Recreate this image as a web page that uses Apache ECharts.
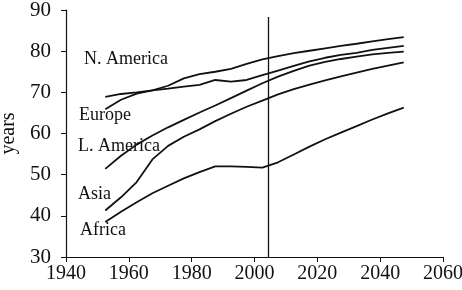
<!DOCTYPE html>
<html>
<head>
<meta charset="utf-8">
<style>
  html, body { margin: 0; padding: 0; background: #fff; }
  #chart { width: 462px; height: 290px; }
</style>
<script src="https://cdn.jsdelivr.net/npm/echarts@6/dist/echarts.min.js"></script>
</head>
<body>
<div id="chart"></div>
<script>
// mid-points of the five-year periods
const years = [1952.5, 1957.5, 1962.5, 1967.5, 1972.5, 1977.5, 1982.5, 1987.5, 1992.5, 1997.5,
               2002.5, 2007.5, 2012.5, 2017.5, 2022.5, 2027.5, 2032.5, 2037.5, 2042.5, 2047.5];

const nAmerica = [68.9, 69.6, 70.0, 70.5, 71.6, 73.4, 74.4, 75.0, 75.7, 76.9,
                  78.0, 78.8, 79.5, 80.1, 80.7, 81.3, 81.8, 82.4, 82.9, 83.4];
const europe   = [65.9, 68.2, 69.7, 70.5, 70.9, 71.4, 71.8, 73.0, 72.6, 73.0,
                  74.2, 75.3, 76.4, 77.5, 78.4, 79.1, 79.6, 80.3, 80.8, 81.3];
const lAmerica = [51.4, 54.6, 57.3, 59.5, 61.5, 63.3, 65.1, 66.8, 68.6, 70.4,
                  72.2, 73.8, 75.2, 76.5, 77.4, 78.1, 78.7, 79.2, 79.6, 79.9];
const asia     = [41.3, 44.5, 48.2, 53.7, 57.0, 59.2, 61.0, 63.0, 64.8, 66.5,
                  68.0, 69.5, 70.8, 71.9, 72.9, 73.9, 74.8, 75.7, 76.5, 77.3];
const africa   = [38.5, 41.0, 43.3, 45.5, 47.3, 49.1, 50.6, 52.0, 52.0, 51.9,
                  51.7, 53.0, 54.9, 56.8, 58.6, 60.2, 61.8, 63.4, 64.9, 66.3];

const xTicks = [1940, 1960, 1980, 2000, 2020, 2040, 2060];
const yTicks = [30, 40, 50, 60, 70, 80, 90];
const dividerYear = 2004.4;

const font = "'Liberation Serif', 'DejaVu Serif', serif";

function pairs(vals) {
  return years.map((y, i) => [y, vals[i]]);
}

function regionLine(name, vals, extra) {
  return Object.assign({
    name: name,
    type: 'line',
    data: pairs(vals),
    symbol: 'none',
    smooth: false,
    lineStyle: { color: '#111', width: 1.8 }
  }, extra || {});
}

// region names written next to the curves
const labels = [
  { text: 'N. America', x: 84, y: 60 },
  { text: 'Europe', x: 79, y: 116 },
  { text: 'L. America', x: 78, y: 147 },
  { text: 'Asia', x: 78, y: 195 },
  { text: 'Africa', x: 80, y: 231 }
];

const chart = echarts.init(document.getElementById('chart'));
chart.setOption({
  animation: false,
  grid: { left: 66, right: 19, top: 10, bottom: 33, containLabel: false, outerBoundsMode: 'none' },
  xAxis: {
    type: 'value',
    min: xTicks[0],
    max: xTicks[xTicks.length - 1],
    interval: 20,
    axisLine: { show: true, lineStyle: { color: '#111', width: 1.2 } },
    axisTick: { show: true, length: 5, lineStyle: { color: '#111' } },
    axisLabel: { color: '#111', fontFamily: font, fontSize: 20, margin: 7,
                 formatter: v => String(v) },
    splitLine: { show: false }
  },
  yAxis: {
    type: 'value',
    min: yTicks[0],
    max: yTicks[yTicks.length - 1],
    interval: 10,
    name: 'years',
    nameLocation: 'middle',
    nameGap: 46,
    nameTextStyle: { color: '#111', fontFamily: font, fontSize: 20 },
    axisLine: { show: true, lineStyle: { color: '#111', width: 1.2 } },
    axisTick: { show: true, length: 5, lineStyle: { color: '#111' } },
    axisLabel: { color: '#111', fontFamily: font, fontSize: 21, margin: 15 },
    splitLine: { show: false }
  },
  series: [
    regionLine('N. America', nAmerica, {
      markLine: {
        silent: true,
        symbol: 'none',
        label: { show: false },
        lineStyle: { color: '#111', width: 1.3, type: 'solid' },
        data: [[{ coord: [dividerYear, 88.3] }, { coord: [dividerYear, 30] }]]
      }
    }),
    regionLine('Europe', europe),
    regionLine('L. America', lAmerica),
    regionLine('Asia', asia),
    regionLine('Africa', africa)
  ],
  graphic: labels.map(l => ({
    type: 'text',
    left: l.x,
    top: l.y - 10,
    style: { text: l.text, fill: '#111', font: '18px ' + font }
  }))
});
</script>
</body>
</html>
